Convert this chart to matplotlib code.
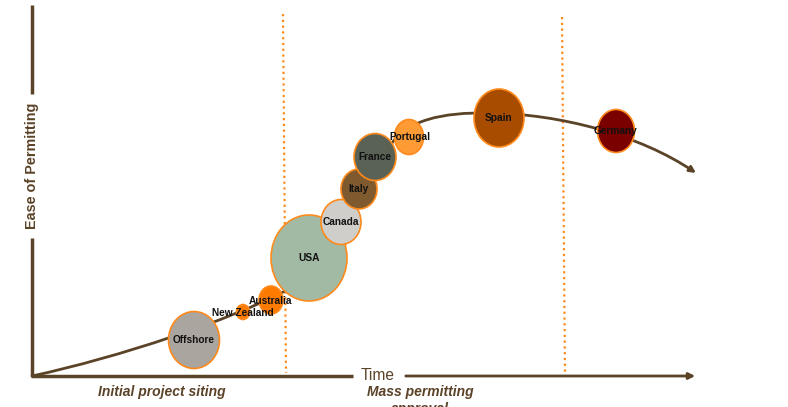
import matplotlib
matplotlib.use("Agg")
import matplotlib.pyplot as plt
from matplotlib.patches import Ellipse, FancyArrowPatch
from matplotlib.path import Path

plt.rcParams['font.family'] = ['Liberation Sans', 'DejaVu Sans']

# market positions along the permitting curve (canvas units, y grows downward)
countries = ["Offshore", "New Zealand", "Australia", "USA", "Canada",
             "Italy", "France", "Portugal", "Spain", "Germany"]
pos_x = [194, 243, 271, 309, 341, 359, 375, 409, 499, 616]
pos_y = [340, 312, 300, 258, 222, 189, 157, 137, 118, 131]
bubble_w = [51, 13, 24, 76, 40, 36, 42, 29, 50, 37]
bubble_h = [57, 15, 28, 86, 45, 40, 47, 35, 58, 43]
bubble_colors = ["#aaa59e", "#ff7b00", "#ff7b00", "#a2b9a4", "#d0ceca",
                 "#7f5a2e", "#5a6256", "#ff9b35", "#a84d00", "#7a0000"]
label_x = [194, 243, 271, 309, 341, 359, 375, 410, 499, 616]
label_y = [340, 313, 301, 258, 222, 189, 157, 137, 118, 131]

# trend curve: cubic bezier segments
curve_pts = [(32, 376), (120, 357), (230, 320), (285, 291),
             (312, 276), (352, 198), (392, 143),
             (408, 121), (440, 112), (490, 113),
             (560, 114), (640, 135), (696, 173)]

phases = ["Initial project siting", "Mass permitting\napproval"]
phase_x = [162, 420]
phase_lines = [(283, 14, 286, 373), (562, 17, 565, 375)]

brown = "#5b4328"
orange = "#ff8a1c"

fig = plt.figure(figsize=(7.88, 4.07), dpi=100)
ax = fig.add_axes([0, 0, 1, 1])
ax.set_xlim(0, 788)
ax.set_ylim(407, 0)
ax.axis("off")

# axes of the diagram
ax.plot([32, 32], [5, 94], color=brown, lw=2.5, solid_capstyle="butt")
ax.plot([32, 32], [238, 376], color=brown, lw=2.5, solid_capstyle="butt")
ax.text(32, 166, "Ease of Permitting", rotation=90, ha="center", va="center",
        fontsize=10.4, fontweight="bold", color=brown)
ax.plot([31, 353], [376, 376], color=brown, lw=2.5, solid_capstyle="butt")
ax.text(378, 376, "Time", ha="center", va="center", fontsize=11.2, color=brown)
ax.add_patch(FancyArrowPatch((403, 376), (698, 376), arrowstyle="-|>",
                             mutation_scale=9, lw=2, color=brown))

# phase separators
for x0, y0, x1, y1 in phase_lines:
    ax.plot([x0, x1], [y0, y1], color=orange, lw=1.6, ls=(0, (1, 1.6)))

for txt, x in zip(phases, phase_x):
    ax.text(x, 385, txt, ha="center", va="top", fontsize=10,
            fontweight="bold", style="italic", color=brown, linespacing=1.3)

# curve
codes = [Path.MOVETO] + [Path.CURVE4] * (len(curve_pts) - 1)
ax.add_patch(FancyArrowPatch(path=Path(curve_pts, codes), arrowstyle="-|>",
                             mutation_scale=9, lw=2, color=brown, zorder=2))

# bubbles
for i in range(len(countries)):
    ax.add_patch(Ellipse((pos_x[i], pos_y[i]), bubble_w[i], bubble_h[i],
                         facecolor=bubble_colors[i], edgecolor=orange,
                         lw=1.2, zorder=3))
    ax.text(label_x[i], label_y[i], countries[i], ha="center", va="center",
            fontsize=7.3, fontweight="bold", color="#111111", zorder=4)

fig.savefig("out.png", dpi=100)
